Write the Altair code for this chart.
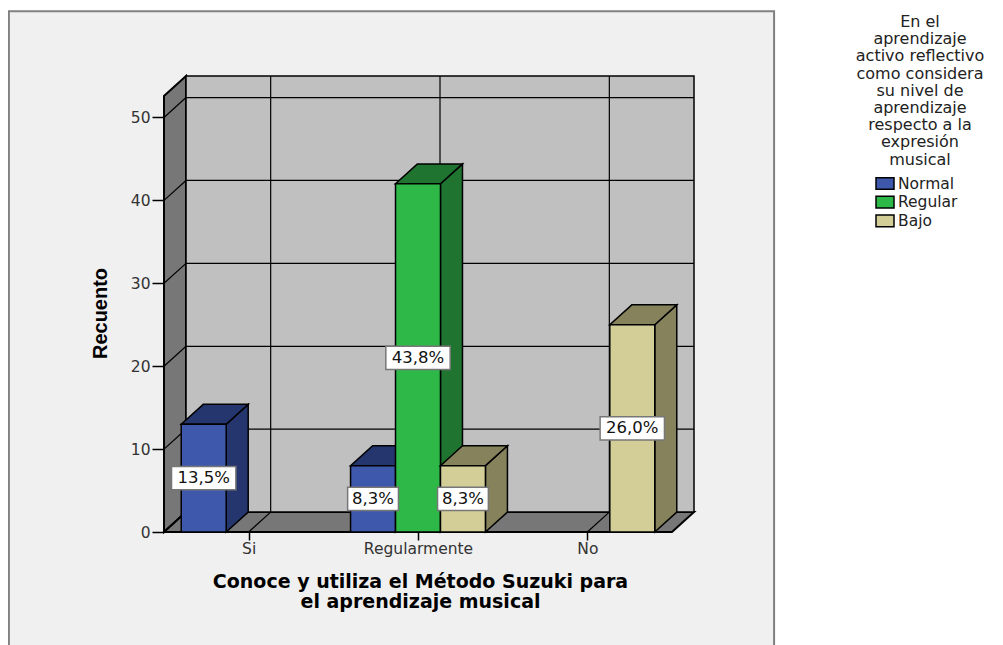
import altair as alt
import pandas as pd

CATEGORIES = ["Si", "Regularmente", "No"]
SERIES = ["Normal", "Regular", "Bajo"]
NORMAL = [13, 8, 0]
REGULAR = [0, 42, 0]
BAJO = [0, 8, 25]
PERCENTS = {"Normal": ["13,5%", "8,3%", ""], "Regular": ["", "43,8%", ""], "Bajo": ["", "8,3%", "26,0%"]}
Y_TICKS = [0, 10, 20, 30, 40, 50]
LEGEND_TITLE = ["En el", "aprendizaje", "activo reflectivo", "como considera", "su nivel de",
                "aprendizaje", "respecto a la", "expresión", "musical"]
X_TITLE = ["Conoce y utiliza el Método Suzuki para", "el aprendizaje musical"]

FRONT = ["#3E58AC", "#2EB848", "#D3CE97"]
DARK = ["#25356E", "#1F7530", "#85825C"]
WALL = "#777777"; BACK = "#C0C0C0"; PANEL = "#F0F0F0"

DX, DY = 0.13, 2.4          # depth of the fake 3-D box, in data units
YTOP = 55 - DY
BW = 0.2655                 # bar width
SHIFT = {"Normal": -BW, "Regular": 0, "Bajo": BW}
XMIN, XMAX = -0.5, 2.5
XS = alt.Scale(domain=[XMIN, XMAX + DX], nice=False, zero=False)
YS = alt.Scale(domain=[0, 55], nice=False, zero=False)
FONT = "DejaVu Sans"

def X(f="x", **k): return alt.X(f, type="quantitative", scale=XS, axis=None, title=None, **k)
def Y(f="y", **k): return alt.Y(f, type="quantitative", scale=YS, axis=None, title=None, stack=None, **k)
X2 = alt.X2("x2"); Y2 = alt.Y2("y2")

def rect(rows, **mk):
    return alt.Chart(pd.DataFrame(rows)).mark_rect(**mk).encode(x=X(), x2=X2, y=Y(), y2=Y2)
def rules(rows, **mk):
    return alt.Chart(pd.DataFrame(rows)).mark_rule(color="black", **mk).encode(x=X(), x2=X2, y=Y(), y2=Y2)

layers = []
# panel
layers.append(rect([dict(x=-1.416, x2=3.103, y=-20, y2=62.8)], fill=PANEL, stroke="#808080", strokeWidth=2))
# left wall
layers.append(alt.Chart(pd.DataFrame([dict(x=XMIN, y=0, y2=YTOP), dict(x=XMIN + DX, y=DY, y2=55)]))
              .mark_area(fill=WALL, stroke="black", strokeWidth=2, orient="vertical")
              .encode(x=X(), y=Y(), y2=Y2))
# floor
layers.append(alt.Chart(pd.DataFrame([dict(y=0, x=XMIN, x2=XMAX), dict(y=DY, x=XMIN + DX, x2=XMAX + DX)]))
              .mark_area(fill=WALL, stroke="black", strokeWidth=2, orient="horizontal")
              .encode(y=Y(), x=X(), x2=X2))
# back wall
layers.append(rect([dict(x=XMIN + DX, x2=XMAX + DX, y=DY, y2=55)], fill=BACK, stroke="black", strokeWidth=1.5))
# grid
grid = [dict(x=XMIN + DX, x2=XMAX + DX, y=v + DY, y2=v + DY) for v in Y_TICKS[1:]]
grid += [dict(x=i + DX, x2=i + DX, y=DY, y2=55) for i in range(3)]
grid += [dict(x=i, x2=i + DX, y=0, y2=DY) for i in range(3)]
grid += [dict(x=XMIN, x2=XMIN + DX, y=v, y2=v + DY) for v in Y_TICKS]
layers.append(rules(grid, strokeWidth=1.2))

# bars
boxes, labels = [], []
for s, vals, front, dark in zip(SERIES, [NORMAL, REGULAR, BAJO], FRONT, DARK):
    side, top, fr = [], [], []
    for i, v in enumerate(vals):
        if not v:
            continue
        c = i + SHIFT[s]
        x0, x1 = c - BW / 2, c + BW / 2
        side += [dict(b=i, x=x1, y=0, y2=v), dict(b=i, x=x1 + DX, y=DY, y2=v + DY)]
        top += [dict(b=i, y=v, x=x0, x2=x1), dict(b=i, y=v + DY, x=x0 + DX, x2=x1 + DX)]
        fr.append(dict(x=x0, x2=x1, y=0, y2=v, serie=s))
        p = PERCENTS[s][i]
        hw = (0.19 if len(p) > 4 else 0.15)
        boxes.append(dict(x=c - hw, x2=c + hw, y=v / 2 - 1.4, y2=v / 2 + 1.4))
        labels.append(dict(x=c, y=v / 2, t=p))
    layers.append(alt.Chart(pd.DataFrame(side)).mark_area(fill=dark, stroke="black", strokeWidth=1.5, orient="vertical")
                  .encode(x=X(), y=Y(), y2=Y2, detail="b:N"))
    layers.append(alt.Chart(pd.DataFrame(top)).mark_area(fill=dark, stroke="black", strokeWidth=1.5, orient="horizontal")
                  .encode(y=Y(), x=X(), x2=X2, detail="b:N"))
    layers.append(alt.Chart(pd.DataFrame(fr)).mark_rect(stroke="black", strokeWidth=1.5)
                  .encode(x=X(), x2=X2, y=Y(), y2=Y2,
                          fill=alt.Fill("serie:N", scale=alt.Scale(domain=SERIES, range=FRONT),
                                        legend=alt.Legend(title=None, orient="none", legendX=711, legendY=100,
                                                          symbolType="M-1,-0.65H1V0.65H-1Z", symbolSize=324,
                                                          symbolStrokeColor="black", symbolStrokeWidth=1.5,
                                                          symbolOpacity=1, clipHeight=15,
                                                          labelFont=FONT, labelFontSize=15.5, labelColor="#222222",
                                                          labelOffset=3, rowPadding=2.7, padding=0))))
layers.append(rect(boxes, fill="white", stroke="#777777", strokeWidth=1.5))
layers.append(alt.Chart(pd.DataFrame(labels)).mark_text(font=FONT, fontSize=16.5, color="#111111")
              .encode(x=X(), y=Y(), text="t:N"))

# axes
axes = alt.Chart(pd.DataFrame({"x": [0, 1, 2], "y": [0, 0, 0]})).mark_point(opacity=0).encode(
    x=alt.X("x:Q", scale=XS, title=X_TITLE,
            axis=alt.Axis(values=[0, 1, 2], labelExpr="['" + "','".join(CATEGORIES) + "'][datum.value]",
                          domain=False, grid=False, tickSize=8, tickColor="black", tickWidth=1.5,
                          labelFont=FONT, labelFontSize=15.5, labelColor="#333333", labelPadding=1, zindex=1,
                          labelFlush=False, labelOverlap=False,
                          titleFont=FONT, titleFontSize=19, titleFontWeight="bold", titleColor="black",
                          titleLineHeight=20.5, titleX=256, titleY=49, titleAnchor="middle", titleBaseline="middle")),
    y=alt.Y("y:Q", scale=YS, title="Recuento",
            axis=alt.Axis(values=Y_TICKS, domain=False, grid=False, tickSize=12, tickColor="black", tickWidth=1.5,
                          labelFont=FONT, labelFontSize=15.5, labelColor="#333333", labelPadding=2, zindex=1,
                          titleFont="Liberation Sans", titleFontSize=20, titleFontWeight="bold",
                          titleColor="black", titleX=-64, titleY=237, titleAnchor="middle",
                          titleBaseline="middle", titleAngle=270)),
)
layers.append(axes)
# legend heading
layers.append(alt.Chart(pd.DataFrame({"a": [0]})).mark_text(
    text=LEGEND_TITLE, font=FONT, fontSize=16, lineHeight=17.2, align="center", baseline="top", color="#222222"
).encode(x=alt.value(756), y=alt.value(-62)))

chart = alt.layer(*layers).resolve_axis(x="independent", y="independent").properties(
    width=530, height=456,
    autosize=alt.AutoSizeParams(type="none"),
    padding={"left": 156, "top": 68, "right": 301, "bottom": 113},
    background="white",
).configure_view(stroke=None)
chart.save("out.html", embed_options={"renderer": "svg", "actions": False})
